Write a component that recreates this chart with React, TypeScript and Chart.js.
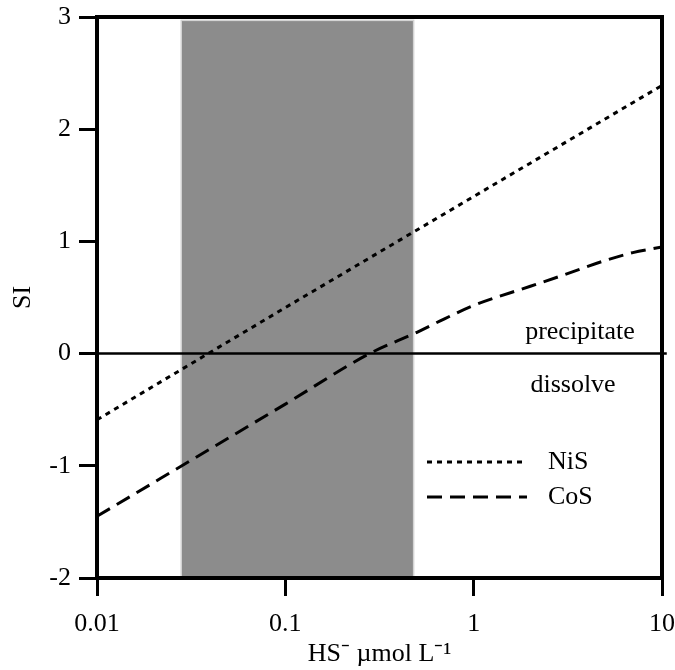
import React, { useEffect, useRef } from "react";
import { Chart, registerables } from "chart.js";

Chart.register(...registerables);

const xTickValues = [0.01, 0.1, 1, 10];
const xTickLabels = ["0.01", "0.1", "1", "10"];
const yTickValues = [-2, -1, 0, 1, 2, 3];

const nisX = [0.01, 0.1, 1, 10];
const nisY = [-0.59, 0.41, 1.4, 2.39];

const cosX = [0.01, 0.1, 0.28, 0.5, 0.7, 1, 2, 3, 5, 7, 10];
const cosY = [-1.45, -0.45, 0.0, 0.19, 0.31, 0.43, 0.6, 0.7, 0.83, 0.9, 0.95];

const zeroX = [0.01, 10.6];
const zeroY = [0, 0];

const bandX = [0.028, 0.48];
const bandY = [-2, 2.97];

const regionLabels = ["precipitate", "dissolve"];
const seriesNames = ["NiS", "CoS"];

const FONT = "'Liberation Serif', 'Times New Roman', serif";
const FS = 26;

const toPts = (xs: number[], ys: number[]) => xs.map((x, i) => ({ x, y: ys[i] }));

const framePlugin = {
  id: "frame",
  beforeDraw(chart: any) {
    const { ctx, scales } = chart;
    const x = scales.x, y = scales.y;
    const x0 = x.getPixelForValue(bandX[0]);
    const x1 = x.getPixelForValue(bandX[1]);
    const y0 = y.getPixelForValue(bandY[1]);
    const y1 = y.getPixelForValue(bandY[0]);
    ctx.save();
    ctx.fillStyle = "#8c8c8c";
    ctx.fillRect(x0, y0, x1 - x0, y1 - y0);
    ctx.strokeStyle = "#d4d4d4";
    ctx.lineWidth = 1.5;
    ctx.strokeRect(x0, y0, x1 - x0, y1 - y0);
    ctx.restore();
  },
  afterDraw(chart: any) {
    const { ctx, chartArea: a, scales } = chart;
    ctx.save();
    ctx.strokeStyle = "#000";
    ctx.lineWidth = 4;
    ctx.beginPath();
    ctx.moveTo(a.left - 2, a.top);
    ctx.lineTo(a.right, a.top);
    ctx.lineTo(a.right, a.bottom + 2);
    ctx.stroke();

    ctx.fillStyle = "#000";
    ctx.font = FS + "px " + FONT;
    ctx.textAlign = "center";
    ctx.textBaseline = "middle";
    ctx.fillText(regionLabels[0], scales.x.getPixelForValue(3.67), scales.y.getPixelForValue(0.19));
    ctx.fillText(regionLabels[1], scales.x.getPixelForValue(3.37), scales.y.getPixelForValue(-0.285));

    const ds = chart.data.datasets;
    const lx0 = a.left + 330;
    const lx1 = a.left + 430;
    const rows = [a.top + 445, a.top + 480];
    for (let i = 0; i < 2; i++) {
      ctx.beginPath();
      ctx.setLineDash(ds[i].borderDash);
      ctx.lineWidth = ds[i].borderWidth;
      ctx.strokeStyle = "#000";
      ctx.moveTo(lx0, rows[i]);
      ctx.lineTo(lx1, rows[i]);
      ctx.stroke();
      ctx.setLineDash([]);
      ctx.textAlign = "left";
      ctx.fillText(seriesNames[i], a.left + 451, rows[i]);
    }
    ctx.restore();
  },
};

export default function App() {
  const ref = useRef<HTMLCanvasElement>(null);
  useEffect(() => {
    const chart = new Chart(ref.current!, {
      type: "line",
      data: {
        datasets: [
          {
            label: seriesNames[0],
            data: toPts(nisX, nisY),
            borderColor: "#000",
            borderWidth: 3,
            borderDash: [5, 5],
            pointRadius: 0,
            fill: false,
          },
          {
            label: seriesNames[1],
            data: toPts(cosX, cosY),
            borderColor: "#000",
            borderWidth: 3,
            borderDash: [15, 8],
            pointRadius: 0,
            cubicInterpolationMode: "monotone",
            fill: false,
          },
          {
            label: "zero",
            data: toPts(zeroX, zeroY),
            borderColor: "#000",
            borderWidth: 2.5,
            pointRadius: 0,
            clip: false,
            fill: false,
          } as any,
        ],
      },
      options: {
        responsive: false,
        animation: false,
        devicePixelRatio: 1,
        layout: { padding: { left: 8, top: 17, right: 13, bottom: 0 } },
        plugins: { legend: { display: false }, tooltip: { enabled: false } },
        scales: {
          x: {
            type: "logarithmic",
            min: 0.01,
            max: 10,
            afterBuildTicks: (s: any) => {
              s.ticks = xTickValues.map((v) => ({ value: v, major: true }));
            },
            afterFit: (s: any) => {
              s.height = 92;
              s.paddingLeft = 0;
              s.paddingRight = 0;
            },
            ticks: {
              autoSkip: false,
              maxRotation: 0,
              padding: 13,
              color: "#000",
              font: { family: FONT, size: FS },
              callback: (v: any) => {
                const i = xTickValues.indexOf(Number(v));
                return i >= 0 ? xTickLabels[i] : "";
              },
            },
            grid: { drawOnChartArea: false, drawTicks: true, tickLength: 18, lineWidth: 3, color: "#000" },
            border: { display: true, width: 4, color: "#000" },
            title: {
              display: true,
              text: "HS⁻ µmol L⁻¹",
              color: "#000",
              font: { family: FONT, size: FS },
              padding: { top: 0, bottom: 0 },
            },
          },
          y: {
            type: "linear",
            min: -2,
            max: 3,
            afterBuildTicks: (s: any) => {
              s.ticks = yTickValues.map((v) => ({ value: v }));
            },
            afterFit: (s: any) => {
              s.width = 89;
              s.paddingTop = 0;
              s.paddingBottom = 0;
            },
            ticks: {
              padding: 8,
              color: "#000",
              font: { family: FONT, size: FS },
              callback: (v: any) => String(v),
            },
            grid: { drawOnChartArea: false, drawTicks: true, tickLength: 18, lineWidth: 3, color: "#000" },
            border: { display: true, width: 4, color: "#000" },
            title: {
              display: true,
              text: "SI",
              color: "#000",
              font: { family: FONT, size: FS },
              padding: { top: 0, bottom: 0 },
            },
          },
        },
      },
      plugins: [framePlugin],
    });
    return () => chart.destroy();
  }, []);
  return (
    <div style={{ position: "absolute", left: 0, top: 0, width: 675, height: 670, background: "#fff" }}>
      <canvas ref={ref} width={675} height={670} />
    </div>
  );
}
